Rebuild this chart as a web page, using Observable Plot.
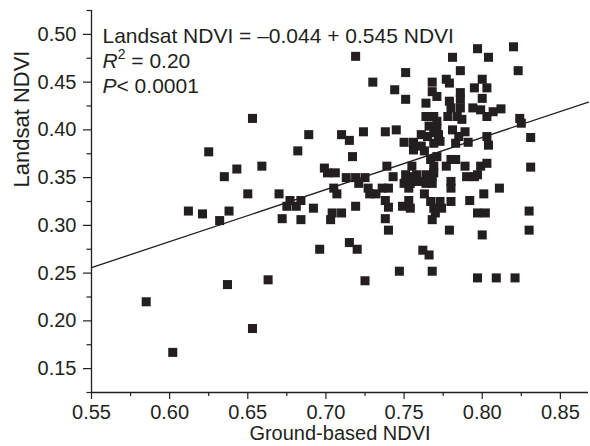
<!DOCTYPE html>
<html>
<head>
<meta charset="utf-8">
<script src="https://cdn.jsdelivr.net/npm/d3@7"></script>
<script src="https://cdn.jsdelivr.net/npm/@observablehq/plot@0.6"></script>
<style>
html, body { margin: 0; padding: 0; background: #fff; }
#chart svg { display: block; }
</style>
</head>
<body>
<div id="chart"></div>
<script>
// ---- Data ----
const groundNDVI = [
  0.585,0.602,0.612,0.621,0.625,0.632,0.635,0.637,0.638,0.643,
  0.650,0.653,0.653,0.659,0.663,0.670,0.672,0.675,0.677,0.681,
  0.682,0.684,0.684,0.689,0.692,0.696,0.699,0.701,0.703,0.704,
  0.705,0.706,0.707,0.710,0.710,0.713,0.715,0.715,0.717,0.719,
  0.719,0.719,0.720,0.721,0.724,0.725,0.725,0.727,0.728,0.730,
  0.732,0.736,0.740,0.738,0.745,0.738,0.738,0.740,0.740,0.739,
  0.743,0.744,0.747,0.749,0.750,0.750,0.751,0.751,0.751,0.753,
  0.754,0.753,0.754,0.755,0.755,0.756,0.756,0.758,0.759,0.761,
  0.761,0.762,0.763,0.763,0.764,0.764,0.764,0.764,0.765,0.766,
  0.766,0.767,0.767,0.768,0.768,0.768,0.768,0.768,0.768,0.769,
  0.769,0.769,0.769,0.769,0.769,0.770,0.771,0.771,0.771,0.771,
  0.772,0.773,0.773,0.774,0.777,0.777,0.779,0.778,0.779,0.779,
  0.780,0.780,0.780,0.780,0.780,0.781,0.781,0.783,0.783,0.784,
  0.785,0.786,0.786,0.786,0.786,0.787,0.789,0.789,0.790,0.791,
  0.792,0.794,0.795,0.795,0.797,0.797,0.797,0.797,0.799,0.799,
  0.800,0.800,0.800,0.801,0.802,0.803,0.803,0.803,0.803,0.804,
  0.804,0.807,0.809,0.811,0.812,0.820,0.821,0.823,0.824,0.825,
  0.831,0.831,0.830,0.830
];
const landsatNDVI = [
  0.220,0.167,0.315,0.312,0.377,0.305,0.351,0.238,0.315,0.359,
  0.333,0.412,0.192,0.362,0.243,0.333,0.307,0.320,0.326,0.320,
  0.378,0.326,0.306,0.395,0.318,0.275,0.360,0.355,0.306,0.313,
  0.339,0.355,0.333,0.395,0.313,0.350,0.282,0.389,0.372,0.350,
  0.477,0.320,0.275,0.344,0.398,0.350,0.242,0.339,0.333,0.450,
  0.333,0.339,0.339,0.398,0.400,0.307,0.326,0.319,0.295,0.362,
  0.351,0.442,0.252,0.320,0.344,0.387,0.460,0.432,0.353,0.326,
  0.318,0.339,0.344,0.362,0.351,0.387,0.379,0.353,0.346,0.395,
  0.383,0.274,0.378,0.333,0.428,0.414,0.353,0.344,0.393,0.404,
  0.269,0.369,0.325,0.450,0.440,0.351,0.344,0.306,0.252,0.362,
  0.355,0.318,0.414,0.397,0.386,0.313,0.435,0.409,0.402,0.372,
  0.395,0.388,0.325,0.318,0.362,0.453,0.449,0.414,0.295,0.430,
  0.423,0.369,0.346,0.339,0.325,0.400,0.476,0.386,0.369,0.414,
  0.393,0.462,0.439,0.432,0.423,0.411,0.398,0.362,0.351,0.387,
  0.326,0.423,0.444,0.351,0.353,0.313,0.245,0.485,0.421,0.362,
  0.453,0.433,0.290,0.333,0.313,0.444,0.414,0.365,0.393,0.384,
  0.476,0.419,0.245,0.339,0.422,0.487,0.245,0.462,0.412,0.407,
  0.392,0.361,0.315,0.295
];

// Regression reported on the chart
const intercept = -0.044;
const slope = 0.545;

// Axes
const xDomain = [0.55, 0.868];
const yDomain = [0.125, 0.525];
const xTicks = [0.55, 0.60, 0.65, 0.70, 0.75, 0.80, 0.85];
const xMinorTicks = [0.575, 0.625, 0.675, 0.725, 0.775, 0.825];
const yTicks = [0.15, 0.20, 0.25, 0.30, 0.35, 0.40, 0.45, 0.50];
const yMinorTicks = [0.125, 0.175, 0.225, 0.275, 0.325, 0.375, 0.425, 0.475, 0.525];

const xTitle = "Ground-based NDVI";
const yTitle = "Landsat NDVI";
const annotationLines = [
  "Landsat NDVI = \u20130.044 + 0.545 NDVI",
  "R2 = 0.20",
  "P< 0.0001"
];

// ---- Chart ----
const ink = "#231f20";
const points = groundNDVI.map((x, i) => ({x, y: landsatNDVI[i]}));
const fitLine = xDomain.map(x => ({x, y: intercept + slope * x}));
const fmt = d3.format(".2f");

const chart = Plot.plot({
  width: 590,
  height: 446,
  marginLeft: 91,
  marginRight: 2,
  marginTop: 10,
  marginBottom: 54,
  style: {
    fontFamily: "'Liberation Sans', Arial, Helvetica, sans-serif",
    fontSize: "20px",
    color: ink,
    background: "#fff",
    overflow: "visible"
  },
  x: {domain: xDomain},
  y: {domain: yDomain},
  marks: [
    Plot.axisX({ticks: xTicks, tickSize: 7, tickPadding: 5, tickFormat: fmt, label: null, fontSize: 20, stroke: ink, strokeWidth: 1.2, fill: ink}),
    Plot.axisX({ticks: xMinorTicks, tickSize: 4, tickFormat: () => "", label: null, stroke: ink, strokeWidth: 1.2}),
    Plot.axisY({ticks: yTicks, tickSize: 8, tickPadding: 7, tickFormat: fmt, label: null, fontSize: 20, stroke: ink, strokeWidth: 1.2, fill: ink}),
    Plot.axisY({ticks: yMinorTicks, tickSize: 4.5, tickFormat: () => "", label: null, stroke: ink, strokeWidth: 1.2}),
    Plot.ruleX([xDomain[0]], {stroke: ink, strokeWidth: 1.3}),
    Plot.ruleY([yDomain[0]], {stroke: ink, strokeWidth: 1.3}),
    Plot.line(fitLine, {x: "x", y: "y", stroke: ink, strokeWidth: 1.3}),
    Plot.dot(points, {x: "x", y: "y", symbol: "square", r: 5.1, fill: ink, stroke: null}),
    Plot.text([xTitle], {frameAnchor: "bottom", dy: 41, lineAnchor: "middle", fontSize: 20, fill: ink}),
    Plot.text([yTitle], {frameAnchor: "left", dx: -70, dy: -14, rotate: -90, lineAnchor: "middle", fontSize: 22, fill: ink}),
    Plot.text([annotationLines.join("\n")], {
      frameAnchor: "top-left", dx: 11, dy: 14, lineAnchor: "top", textAnchor: "start",
      lineHeight: 1.21, fontSize: 21, fill: ink
    })
  ]
});

document.getElementById("chart").appendChild(chart);

// Italic symbols and superscript in the annotation (real text, restyled)
function leafWith(content) {
  return d3.select(chart).selectAll("text, tspan")
    .filter(function () { return this.children.length === 0 && this.textContent === content; });
}
leafWith(annotationLines[1]).each(function () {
  const s = d3.select(this);
  s.text(null);
  s.append("tspan").attr("font-style", "italic").text("R");
  s.append("tspan").attr("dy", -9).attr("font-size", 14).text("2");
  s.append("tspan").attr("dy", 9).text(" = 0.20");
});
leafWith(annotationLines[2]).each(function () {
  const s = d3.select(this);
  s.text(null);
  s.append("tspan").attr("font-style", "italic").text("P");
  s.append("tspan").text("< 0.0001");
});
</script>
</body>
</html>
